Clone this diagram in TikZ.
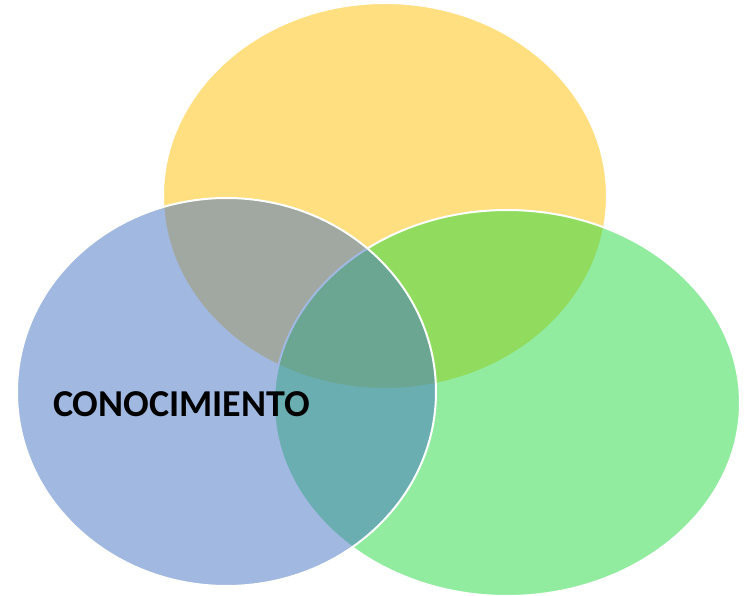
\documentclass[tikz,border=0pt]{standalone}
\usepackage{fontspec}
\setmainfont{Carlito}
\definecolor{cyel}{RGB}{255,192,0}
\definecolor{cblu}{RGB}{68,114,196}
\definecolor{cgrn}{RGB}{37,219,65}
\begin{document}
\begin{tikzpicture}[x=1pt,y=-1pt,
  venn/.style={draw=white,line width=2pt,fill opacity=0.5,draw opacity=1}]
\useasboundingbox (0,0) rectangle (748,596);
\fill[white] (0,0) rectangle (748,596);
\path[venn,fill=cyel] (385,196) ellipse [x radius=222,y radius=193];
\path[venn,fill=cgrn] (507,403) ellipse [x radius=233,y radius=193];
\path[venn,fill=cblu] (226.5,392) ellipse [x radius=209.5,y radius=194];
\node[font=\bfseries\fontsize{38}{42}\selectfont,text=black,inner sep=0pt] (t) at (181.5,404) {CONOCIMIENTO};
\end{tikzpicture}
\end{document}
